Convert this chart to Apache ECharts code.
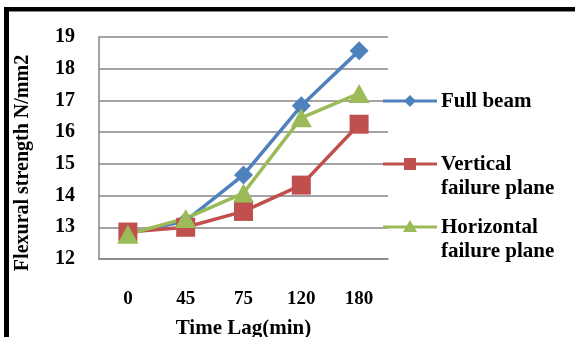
<!DOCTYPE html>
<html>
<head>
<meta charset="utf-8">
<script src="https://cdn.jsdelivr.net/npm/echarts@6/dist/echarts.min.js"></script>
<style>
html,body{margin:0;padding:0;background:#fff;}
#c{width:575px;height:337px;}
</style>
</head>
<body>
<div id="c"></div>
<script>
var categories = ['0', '45', '75', '120', '180'];
var seriesNames = ['Full beam', 'Vertical failure plane', 'Horizontal failure plane'];
var fullBeam = [12.8, 13.2, 14.65, 16.83, 18.57];
var verticalPlane = [12.85, 13.0, 13.5, 14.33, 16.25];
var horizontalPlane = [12.78, 13.28, 14.08, 16.45, 17.22];
var yMin = 12, yMax = 19, yStep = 1;
var yAxisTitle = 'Flexural strength N/mm2';
var xAxisTitle = 'Time Lag(min)';
var legendLabels = ['Full beam', 'Vertical\nfailure plane', 'Horizontal\nfailure plane'];

var colors = ['#4F81BD', '#C0504D', '#9BBB59'];
var symbols = ['diamond', 'rect', 'triangle'];
var symbolSizes = [[19, 19], [19, 19], [21, 19]];
var dataSets = [fullBeam, verticalPlane, horizontalPlane];
var FONT = '"Liberation Serif", "Times New Roman", serif';

var chart = echarts.init(document.getElementById('c'), null, {renderer: 'canvas'});

var series = dataSets.map(function (d, i) {
  return {
    name: seriesNames[i],
    type: 'line',
    data: d,
    symbol: symbols[i],
    symbolSize: symbolSizes[i],
    showAllSymbol: true,
    lineStyle: {color: colors[i], width: 3.5},
    itemStyle: {color: colors[i]},
    animation: false
  };
});

// legend drawn as graphic (icon aligned with first text line)
var legendY = [101, 164, 227];
var legendGraphics = [];
legendY.forEach(function (y, i) {
  legendGraphics.push({
    type: 'line', shape: {x1: 383, y1: y, x2: 437, y2: y},
    style: {stroke: colors[i], lineWidth: 3}, z: 100
  });
  var sym;
  if (i === 0) {
    sym = {type: 'polygon', shape: {points: [[410, y - 6], [416, y], [410, y + 6], [404, y]]}};
  } else if (i === 1) {
    sym = {type: 'rect', shape: {x: 404, y: y - 6, width: 12, height: 12}};
  } else {
    sym = {type: 'polygon', shape: {points: [[410, y - 7], [417, y + 5], [403, y + 5]]}};
  }
  sym.style = {fill: colors[i]};
  sym.z = 101;
  legendGraphics.push(sym);
  legendGraphics.push({
    type: 'text', x: 441, y: y - 11, z: 101,
    style: {text: legendLabels[i], fill: '#000', font: 'bold 21px ' + FONT, lineHeight: 23.5, textVerticalAlign: 'top', verticalAlign: 'top'}
  });
});

var option = {
  backgroundColor: '#fff',
  animation: false,
  grid: {left: 99, top: 37, right: 187, bottom: 78, containLabel: false, outerBoundsMode: 'none'},
  xAxis: {
    type: 'category',
    data: categories,
    boundaryGap: true,
    axisLine: {show: true, lineStyle: {color: '#868686', width: 1.5}},
    axisTick: {show: false},
    axisLabel: {color: '#000', fontFamily: FONT, fontWeight: 'bold', fontSize: 19, margin: 31},
    name: xAxisTitle,
    nameLocation: 'middle',
    nameGap: 59,
    nameTextStyle: {color: '#000', fontFamily: FONT, fontWeight: 'bold', fontSize: 21}
  },
  yAxis: {
    type: 'value',
    min: yMin, max: yMax, interval: yStep,
    axisLine: {show: true, lineStyle: {color: '#868686', width: 1.5}},
    axisTick: {show: false},
    splitLine: {show: true, lineStyle: {color: '#868686', width: 1.5}},
    axisLabel: {color: '#000', fontFamily: FONT, fontWeight: 'bold', fontSize: 20, margin: 24}
  },
  series: series,
  graphic: [
    {type: 'rect', shape: {x: 4, y: 7, width: 571, height: 4}, style: {fill: '#000'}, z: 200},
    {type: 'line', shape: {x1: 9, y1: 11.5, x2: 575, y2: 11.5}, style: {stroke: '#888', lineWidth: 1}, z: 200},
    {type: 'rect', shape: {x: 4, y: 7, width: 5, height: 330}, style: {fill: '#000'}, z: 200},
    {type: 'text', x: 23, y: 163, rotation: Math.PI / 2, z: 200,
      style: {text: yAxisTitle, fill: '#000', font: 'bold 20px ' + FONT, textAlign: 'center', textVerticalAlign: 'middle', align: 'center', verticalAlign: 'middle'}}
  ].concat(legendGraphics)
};
chart.setOption(option);
</script>
</body>
</html>
